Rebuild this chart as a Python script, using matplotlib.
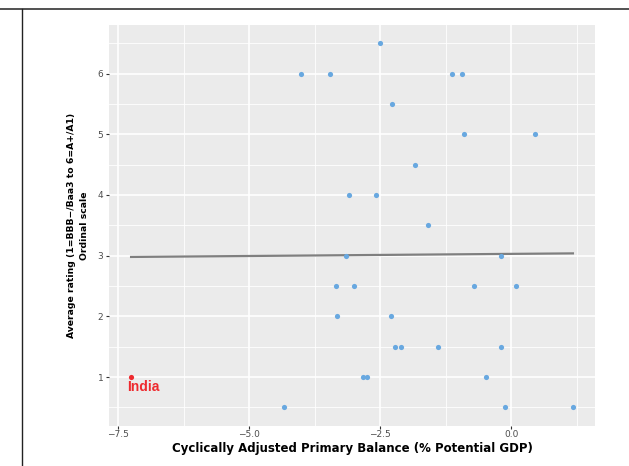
import matplotlib
matplotlib.use("Agg")
import matplotlib.pyplot as plt
from matplotlib.lines import Line2D
import numpy as np

# cyclically adjusted primary balance (% potential GDP) and average rating
balance = [-2.5, -4.0, -3.45, -1.13, -0.94, -2.27, -0.9, 0.46, -1.83,
           -3.09, -2.58, -1.58, -3.15, -0.19, -3.34, -3.0, -0.71, 0.1,
           -3.32, -2.29, -2.21, -2.1, -1.39, -0.19, -2.82, -2.75, -0.48,
           -4.33, -0.11, 1.18]
rating = [6.5, 6, 6, 6, 6, 5.5, 5, 5, 4.5,
          4, 4, 3.5, 3, 3, 2.5, 2.5, 2.5, 2.5,
          2, 2, 1.5, 1.5, 1.5, 1.5, 1, 1, 1,
          0.5, 0.5, 0.5]
india_x = [-7.25]
india_y = [1]
india_lab = "India"

xticks = [-7.5, -5.0, -2.5, 0.0]
xtick_labels = ["\u22127.5", "\u22125.0", "\u22122.5", "0.0"]
yticks = [1, 2, 3, 4, 5, 6]

plt.rcParams['font.family'] = ['DejaVu Sans']

fig = plt.figure(figsize=(6.29, 4.66), dpi=100)
ax = fig.add_axes([109/629, 40.3/466, 486/629, 400.7/466])
ax.set_facecolor("#EBEBEB")

allx = np.array(balance + india_x)
ally = np.array(rating + india_y)
b, a = np.polyfit(allx, ally, 1)
xs = np.array([allx.min(), allx.max()])

ax.scatter(balance, rating, s=14, color="#68A8E0", zorder=3, linewidths=0)
ax.scatter(india_x, india_y, s=14, color="#EE2A2F", zorder=3, linewidths=0)
ax.plot(xs, a + b*xs, color="#7F7F7F", lw=1.6, zorder=2)
ax.annotate(india_lab, (india_x[0], india_y[0]), xytext=(-3, -7),
            textcoords="offset points", ha="left", va="center",
            color="#EE2A2F", fontsize=10, fontweight="bold",
            family=["Liberation Sans", "DejaVu Sans"])

rng = allx.max() - allx.min()
ax.set_xlim(allx.min() - 0.05*rng, allx.max() + 0.05*rng)
ax.set_ylim(0.2, 6.8)

ax.set_xticks(xticks)
ax.set_xticklabels(xtick_labels)
ax.set_yticks(yticks)
ax.set_xticks([-6.25, -3.75, -1.25, 1.25], minor=True)
ax.set_yticks([0.5, 1.5, 2.5, 3.5, 4.5, 5.5, 6.5], minor=True)
ax.grid(which="major", color="white", lw=1.2)
ax.grid(which="minor", color="white", lw=0.6)
ax.set_axisbelow(True)
for s in ax.spines.values():
    s.set_visible(False)
ax.tick_params(which="major", length=2.5, width=0.8, color="#333333",
               labelsize=6.5, labelcolor="#4D4D4D", pad=1.5)
ax.tick_params(axis="x", which="major", pad=0.5)
ax.tick_params(which="minor", length=0)

ax.set_xlabel("Cyclically Adjusted Primary Balance (% Potential GDP)",
              fontsize=8.5, fontweight="bold", labelpad=2)
ax.set_ylabel("Average rating (1=BBB\u2212/Baa3 to 6=A+/A1)\nOrdinal scale",
              fontsize=6.7, fontweight="bold", labelpad=6, linespacing=1.6)

# frame lines from the surrounding page
fig.add_artist(Line2D([0, 1], [1 - 9/466, 1 - 9/466], color="#333333", lw=1.2,
                      transform=fig.transFigure))
fig.add_artist(Line2D([22/629, 22/629], [0, 1 - 9/466], color="#222222", lw=1.0,
                      transform=fig.transFigure))

fig.savefig("out.png", dpi=100)
